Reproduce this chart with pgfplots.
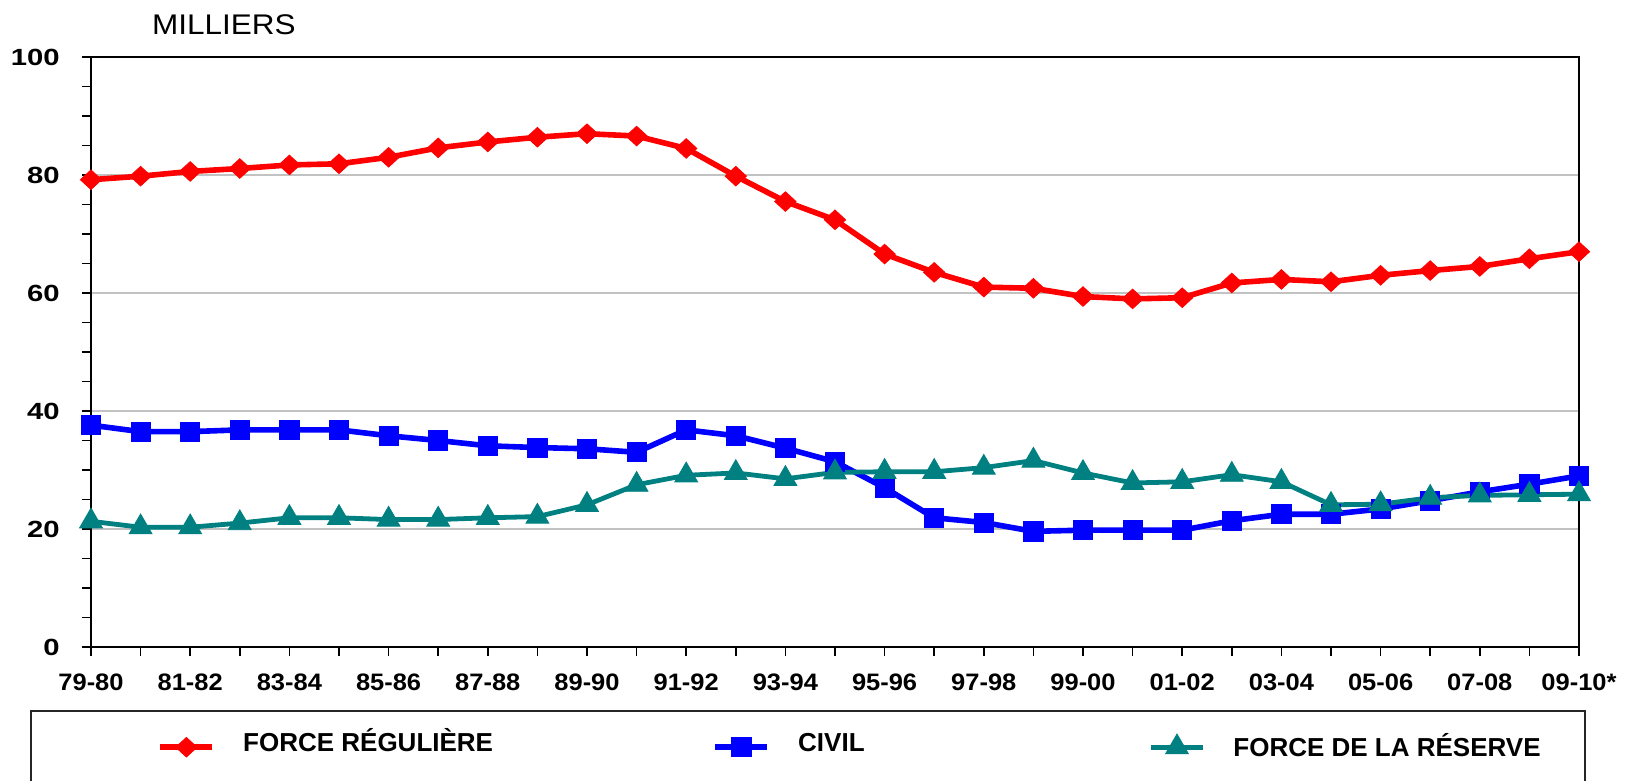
\documentclass[border=0pt]{standalone}
\usepackage{pgfplots}
\pgfplotsset{compat=1.18}
\usepackage{pgfplotstable}
\usepackage{fontspec}
\setmainfont{Liberation Sans}
\newfontfamily\ylabfont[FakeStretch=1.25]{Liberation Sans}
\newfontfamily\xlabfont[FakeStretch=1.07]{Liberation Sans}
\newfontfamily\milfont[FakeStretch=1.11]{Liberation Sans}

% x = index of the year (0 = 79-80, 30 = 09-10*), values in thousands
\pgfplotstableread{
x   reg   civ   res
0   79.2  37.6  21.3
1   79.8  36.5  20.3
2   80.6  36.5  20.3
3   81.1  36.8  21.0
4   81.7  36.8  21.9
5   81.9  36.8  21.9
6   83.0  35.8  21.6
7   84.6  35.0  21.6
8   85.6  34.1  21.9
9   86.4  33.8  22.1
10  87.0  33.6  24.1
11  86.6  33.0  27.5
12  84.5  36.8  29.1
13  79.8  35.8  29.5
14  75.5  33.7  28.5
15  72.4  31.4  29.6
16  66.6  27.0  29.7
17  63.5  21.9  29.7
18  61.0  21.1  30.4
19  60.8  19.6  31.6
20  59.4  19.8  29.5
21  59.0  19.8  27.8
22  59.2  19.8  28.0
23  61.7  21.4  29.2
24  62.3  22.5  28.0
25  61.9  22.5  24.1
26  63.0  23.4  24.2
27  63.8  24.8  25.3
28  64.5  26.3  25.7
29  65.8  27.6  25.8
30  67.0  29.0  25.9
}\effectifs

\begin{document}
\begin{tikzpicture}[x=0.5pt,y=0.5pt]
\path[use as bounding box] (-91,-134) rectangle (1537,647);
\begin{axis}[
  at={(0,0)}, anchor=south west,
  scale only axis,
  width=744pt, height=295pt,
  xmin=0, xmax=30, ymin=0, ymax=100,
  /pgf/number format/assume math mode=true,
  xtick={0,...,30},
  xticklabels={79-80,,81-82,,83-84,,85-86,,87-88,,89-90,,91-92,,93-94,,95-96,,97-98,,99-00,,01-02,,03-04,,05-06,,07-08,,09-10*},
  ytick={0,20,...,100},
  minor y tick num=3,
  tick align=outside,
  tick pos=left,
  major tick length=4.5pt, minor tick length=4.5pt,
  tick style={line width=0.8pt, black},
  axis line style={line width=1pt},
  ymajorgrids,
  major grid style={draw=black!24, line width=1pt},
  clip=false,
  xticklabel style={font=\xlabfont\bfseries\fontsize{11.9}{14}\selectfont, inner sep=0pt, anchor=north, yshift=-8.5pt},
  yticklabel style={font=\ylabfont\bfseries\fontsize{11.7}{14}\selectfont, inner sep=0pt, anchor=east, xshift=-11pt},
  legend columns=3,
  legend style={at={(0.0445,-0.167)}, anchor=west, draw=none, fill=none,
    inner sep=0pt, font=\bfseries\fontsize{13}{15}\selectfont,
    cells={anchor=west},
    nodes={inner sep=0pt, text height=9.3pt, text depth=0pt},
    /tikz/every odd column/.append style={column sep=14pt},
    /tikz/every even column/.append style={column sep=0pt}},
  legend image code/.code={\draw[mark repeat=2,mark phase=2,#1] plot coordinates {(0pt,0pt) (13pt,0pt) (26pt,0pt)};},
]
\addplot[color=red, line width=2.8pt, mark=diamond*, mark size=4.9pt,
  mark options={solid, fill=red, line width=0.4pt, xscale=1.45}] table[x=x, y=reg] {\effectifs};
\addlegendentry{\makebox[234.7pt][l]{\raisebox{2.75pt}{FORCE RÉGULIÈRE}}}
\addplot[color=blue, line width=2.8pt, mark=square*, mark size=4.8pt,
  mark options={solid, fill=blue, line width=0.4pt}] table[x=x, y=civ] {\effectifs};
\addlegendentry{\makebox[175.2pt][l]{\raisebox{2.75pt}{CIVIL}}}
\addplot[color=teal, line width=2.4pt, mark=triangle*, mark size=6.6pt,
  mark options={solid, fill=teal, line width=0.4pt}] table[x=x, y=res] {\effectifs};
\addlegendentry{FORCE DE LA RÉSERVE}
\node[anchor=base west, inner sep=0pt, font=\milfont\fontsize{14.2}{16}\selectfont]
  at (rel axis cs:0.0408,1.0385) {MILLIERS};
\end{axis}
\draw[line width=1pt, black!85] (-60,-64) rectangle (1494,-300);
\end{tikzpicture}
\end{document}
